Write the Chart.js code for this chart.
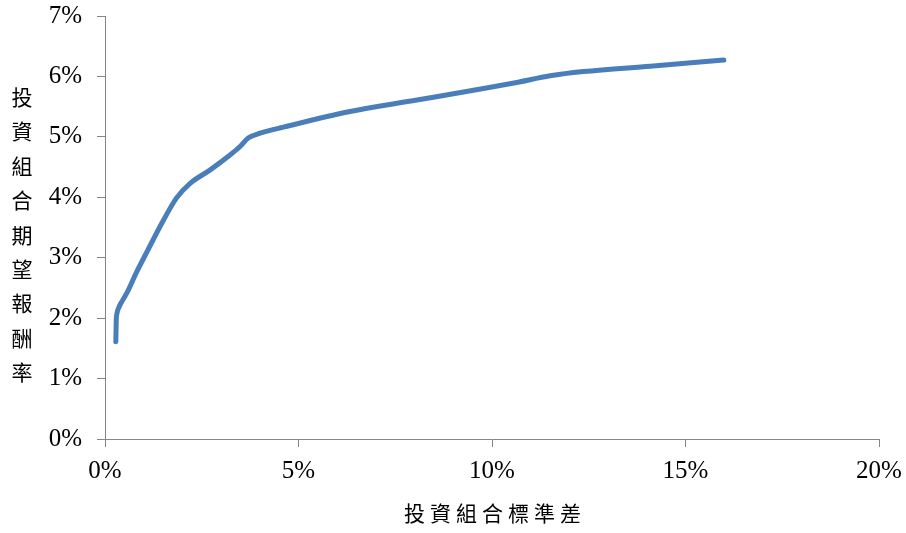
<!DOCTYPE html>
<html>
<head>
<meta charset="utf-8">
<script src="https://cdn.jsdelivr.net/npm/chart.js@4/dist/chart.umd.min.js"></script>
<style>
  html, body { margin: 0; padding: 0; background: #ffffff; }
  #wrap { position: relative; width: 906px; height: 533px; }
</style>
</head>
<body>
<div id="wrap"><canvas id="frontier" width="906" height="533"></canvas></div>
<script>
// Efficient frontier: portfolio standard deviation (%) vs expected return (%)
const portfolioStdDev = [0.28, 0.29, 0.31, 0.36, 0.45, 0.60, 0.80, 1.11, 1.51, 1.85, 2.20, 2.71, 3.23, 3.49, 3.70, 4.01, 4.61, 6.33, 8.06, 9.78, 10.64, 11.50, 12.36, 14.09, 15.99];
const expectedReturn  = [1.61, 1.95, 2.08, 2.18, 2.29, 2.46, 2.74, 3.13, 3.62, 3.99, 4.23, 4.45, 4.70, 4.84, 4.98, 5.06, 5.16, 5.42, 5.61, 5.80, 5.90, 6.01, 6.08, 6.17, 6.27];

const xTicks = [0, 5, 10, 15, 20];
const yTicks = [0, 1, 2, 3, 4, 5, 6, 7];

const xTitle = '投資組合標準差';
const yTitle = '投資組合期望報酬率';

const points = portfolioStdDev.map((x, i) => ({ x: x, y: expectedReturn[i] }));

const axisGray = '#868686';
const tickFont = { family: '"Liberation Serif", "Times New Roman", serif', size: 25 };

// Draws the axis titles: the vertical one as a stacked column of characters
const axisTitles = {
  id: 'axisTitles',
  afterDraw(chart) {
    const ctx = chart.ctx;
    const area = chart.chartArea;
    ctx.save();
    ctx.fillStyle = '#000000';
    ctx.font = '21px "Noto Sans CJK TC", "Noto Sans CJK SC", sans-serif';
    ctx.textAlign = 'center';
    ctx.textBaseline = 'middle';
    const chars = Array.from(yTitle);
    const pitch = 34.4;
    const startY = 97;
    chars.forEach((c, i) => ctx.fillText(c, 22, startY + i * pitch));
    ctx.letterSpacing = '5px';
    ctx.fillText(xTitle, (area.left + area.right) / 2 + 3, 513);
    ctx.restore();
  }
};

new Chart(document.getElementById('frontier'), {
  type: 'scatter',
  data: {
    datasets: [{
      data: points,
      showLine: true,
      borderColor: '#4a7ebb',
      borderWidth: 5,
      borderCapStyle: 'round',
      borderJoinStyle: 'round',
      pointRadius: 0,
      pointHoverRadius: 0,
      cubicInterpolationMode: 'monotone',
      fill: false
    }]
  },
  options: {
    responsive: false,
    animation: false,
    devicePixelRatio: 1,
    layout: { padding: { left: 0, right: 27, top: 16, bottom: 0 } },
    plugins: {
      legend: { display: false },
      tooltip: { enabled: false }
    },
    scales: {
      x: {
        type: 'linear',
        min: 0,
        max: 20,
        afterBuildTicks(scale) { scale.ticks = xTicks.map(v => ({ value: v })); },
        afterFit(scale) {
          scale.height = 94;
          scale.paddingLeft = 0;
          scale.paddingRight = 0;
        },
        grid: { drawOnChartArea: false, drawTicks: true, tickLength: 8, color: axisGray, lineWidth: 1 },
        border: { display: true, color: axisGray, width: 1 },
        ticks: {
          color: '#000000',
          font: tickFont,
          padding: 9,
          maxRotation: 0,
          callback: v => v + '%'
        }
      },
      y: {
        type: 'linear',
        min: 0,
        max: 7,
        afterBuildTicks(scale) { scale.ticks = yTicks.map(v => ({ value: v })); },
        afterFit(scale) {
          scale.width = 105;
          scale.paddingTop = 0;
          scale.paddingBottom = 0;
        },
        grid: { drawOnChartArea: false, drawTicks: true, tickLength: 8, color: axisGray, lineWidth: 1 },
        border: { display: true, color: axisGray, width: 1 },
        ticks: {
          color: '#000000',
          font: tickFont,
          padding: 15,
          callback: v => v + '%'
        }
      }
    }
  },
  plugins: [axisTitles]
});
</script>
</body>
</html>
